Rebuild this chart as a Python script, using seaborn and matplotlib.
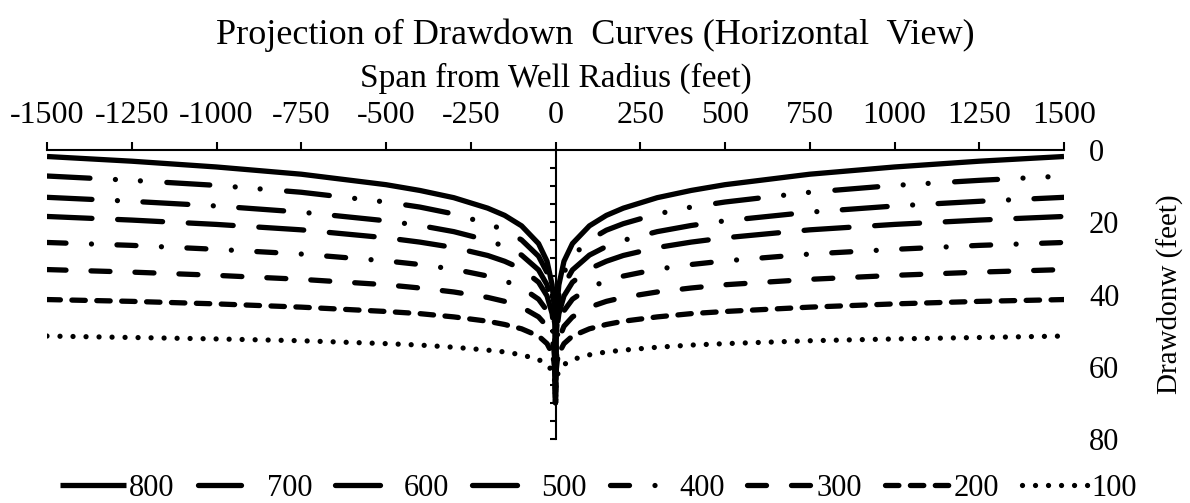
import numpy as np
import pandas as pd
import matplotlib
matplotlib.use("Agg")
import matplotlib.pyplot as plt
import seaborn as sns

# ---- data ----
series_labels = ["800", "700", "600", "500", "400", "300", "200", "100"]
distance_ft = [0, 2, 5, 10, 25, 50, 100, 150, 200, 300, 400, 500, 750, 1000, 1250, 1500]
dd_800 = [70, 48.7, 42.3, 37.3, 30.8, 25.9, 21.0, 18.1, 16.1, 13.2, 11.2, 9.6, 6.7, 4.7, 3.1, 1.8]
dd_700 = [70, 50.4, 44.5, 39.9, 33.9, 29.4, 24.9, 22.2, 20.4, 17.7, 15.8, 14.4, 11.7, 9.8, 8.4, 7.2]
dd_600 = [70, 52.3, 46.9, 42.8, 37.3, 33.2, 29.1, 26.7, 25.0, 22.6, 20.9, 19.6, 17.2, 15.5, 14.2, 13.1]
dd_500 = [70, 53.9, 49.0, 45.3, 40.4, 36.6, 32.9, 30.8, 29.2, 27.0, 25.5, 24.3, 22.1, 20.6, 19.4, 18.4]
dd_400 = [70, 56.2, 51.9, 48.7, 44.5, 41.3, 38.1, 36.2, 34.9, 33.0, 31.7, 30.7, 28.8, 27.5, 26.4, 25.6]
dd_300 = [70, 58.5, 55.0, 52.3, 48.8, 46.2, 43.5, 41.9, 40.8, 39.3, 38.2, 37.3, 35.8, 34.7, 33.8, 33.1]
dd_200 = [70, 61.1, 58.4, 56.3, 53.6, 51.5, 49.5, 48.3, 47.4, 46.2, 45.3, 44.7, 43.5, 42.6, 41.9, 41.4]
dd_100 = [70, 64.2, 62.5, 61.1, 59.4, 58.0, 56.7, 55.9, 55.4, 54.6, 54.0, 53.6, 52.8, 52.3, 51.9, 51.5]
x_ticks = [-1500, -1250, -1000, -750, -500, -250, 0, 250, 500, 750, 1000, 1250, 1500]
y_labels = [0, 20, 40, 60, 80]

all_dd = [dd_800, dd_700, dd_600, dd_500, dd_400, dd_300, dd_200, dd_100]

# build symmetric profile (left side mirrors right side)
rows = []
for lab, dd in zip(series_labels, all_dd):
    xs = [-d for d in distance_ft[::-1]] + distance_ft[1:]
    ys = dd[::-1] + dd[1:]
    for xv, yv in zip(xs, ys):
        rows.append({"x": xv, "s": yv, "series": lab})
df = pd.DataFrame(rows)

# ---- styling ----
sns.set_theme(style="white")
plt.rcParams["font.family"] = ["Liberation Serif", "DejaVu Serif"]
plt.rcParams["lines.scale_dashes"] = False
for k in ["text.color", "axes.labelcolor", "xtick.color", "ytick.color"]:
    plt.rcParams[k] = "black"

PX = 100 / 72.0  # px per point at dpi 100
def pat(*px):
    return tuple(v / PX for v in px)

dash_map = {
    "800": "",
    "700": pat(43, 25.5, 0.01, 25, 0.01, 26.5),
    "600": pat(45, 25.5, 0.01, 25.5),
    "500": pat(45, 25.7),
    "400": pat(19, 25.5, 0.01, 25.5),
    "300": pat(19, 25),
    "200": pat(13.4, 11.5),
    "100": pat(0.01, 13),
}

fig = plt.figure(figsize=(11.9, 5.03), dpi=100)
ax = fig.add_axes([47 / 1190, 1 - 439 / 503, (1064 - 47) / 1190, (439 - 150) / 503])

sns.lineplot(
    data=df, x="x", y="s", hue="series", style="series",
    hue_order=series_labels, style_order=series_labels,
    palette=["black"] * 8, dashes=dash_map, sort=False, estimator=None,
    linewidth=3.8, dash_capstyle="round", solid_capstyle="butt",
    legend=False, ax=ax,
)

ax_h = 439 - 150
ax.set_xlim(-1500, 1500)
ax.set_ylim(80, 0)
ax.set_xticks(x_ticks)
ax.set_xticklabels([str(v) for v in x_ticks])
ax.xaxis.tick_top()
ax.xaxis.set_label_position("top")
ax.set_xlabel("Span from Well Radius (feet)", fontsize=24)
ax.xaxis.label.set_verticalalignment("center")
ax.xaxis.set_label_coords(0.5, (439 - 78) / ax_h)
ax.set_ylabel("")
ax.tick_params(axis="x", direction="out", length=6, width=1.5, color="black",
               labelsize=23, pad=8.5, top=True, bottom=False)
ax.set_yticks(np.arange(0, 81, 5))
ax.set_yticklabels([])
ax.tick_params(axis="y", direction="out", length=4, width=1.5, color="black",
               left=True, right=False)
ax.spines["left"].set_position(("data", 0))
ax.spines["left"].set_color("black")
ax.spines["left"].set_linewidth(1.5)
ax.spines["top"].set_color("black")
ax.spines["top"].set_linewidth(1.5)
ax.spines["right"].set_visible(False)
ax.spines["bottom"].set_visible(False)
ax.grid(False)
ax.set_facecolor("white")

ax2 = ax.twinx()
ax2.set_ylim(80, 0)
ax2.set_yticks(y_labels)
ax2.set_yticklabels([str(v) for v in y_labels])
ax2.tick_params(axis="y", length=0, labelsize=22, pad=18, right=True)
for sp in ax2.spines.values():
    sp.set_visible(False)
ax2.set_ylabel("Drawdonw (feet)", fontsize=21)
ax2.yaxis.label.set_horizontalalignment("center")
ax2.yaxis.label.set_verticalalignment("center")
ax2.yaxis.set_label_coords((1170 - 47) / 1017, 0.5)
ax2.grid(False)

fig.text(0.5, 1 - 35 / 503, "Projection of Drawdown  Curves (Horizontal  View)",
         fontsize=26, ha="center", va="center")

lines = ax.get_lines()[:8]
fig.legend(lines, series_labels, loc="center", bbox_to_anchor=(0.503, 1 - 488 / 503),
           ncol=8, frameon=False, fontsize=22, handlelength=2.16,
           handletextpad=0.1, columnspacing=0.75, borderpad=0, borderaxespad=0)

fig.savefig("out.png", dpi=100, facecolor="white")
